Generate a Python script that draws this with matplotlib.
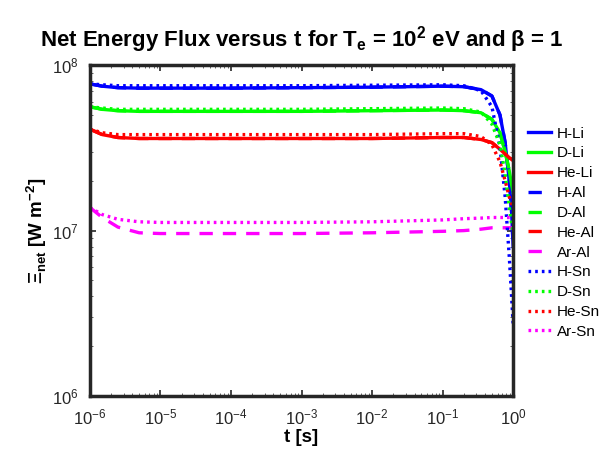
import matplotlib
matplotlib.use('Agg')
import matplotlib.pyplot as plt
from matplotlib.ticker import LogLocator, NullFormatter

plt.rcParams['font.family'] = ['Liberation Sans', 'DejaVu Sans']
plt.rcParams['mathtext.fontset'] = 'custom'
plt.rcParams['mathtext.rm'] = 'Liberation Sans'
plt.rcParams['mathtext.bf'] = 'Liberation Sans:bold'

# time points (s)
t_pts = [1e-6, 1.5e-6, 2.5e-6, 5e-6, 1e-5, 1e-4, 1e-3, 1e-2, 1e-1, 0.2,
         0.35, 0.5, 0.65, 0.77, 0.88, 0.95, 1.0]

# energy flux values (W m^-2)
h_li = [7.7e7, 7.45e7, 7.3e7, 7.25e7, 7.25e7, 7.25e7, 7.3e7, 7.35e7, 7.45e7,
        7.4e7, 7.1e7, 6.5e7, 5.0e7, 3.4e7, 2.0e7, 1.3e7, 8.0e6]
d_li = [5.6e7, 5.4e7, 5.3e7, 5.25e7, 5.25e7, 5.25e7, 5.25e7, 5.3e7, 5.35e7,
        5.3e7, 5.15e7, 4.7e7, 3.9e7, 3.0e7, 2.3e7, 1.9e7, 1.7e7]
he_li = [4.1e7, 3.8e7, 3.65e7, 3.6e7, 3.6e7, 3.6e7, 3.6e7, 3.6e7, 3.65e7,
         3.65e7, 3.55e7, 3.4e7, 3.1e7, 2.9e7, 2.75e7, 2.7e7, 2.65e7]
h_al = [7.7e7, 7.45e7, 7.3e7, 7.25e7, 7.25e7, 7.25e7, 7.3e7, 7.35e7, 7.45e7,
        7.4e7, 7.1e7, 6.5e7, 5.0e7, 3.4e7, 2.0e7, 1.3e7, 8.0e6]
d_al = [5.6e7, 5.4e7, 5.3e7, 5.25e7, 5.25e7, 5.25e7, 5.25e7, 5.3e7, 5.35e7,
        5.3e7, 5.15e7, 4.7e7, 3.9e7, 3.0e7, 2.3e7, 1.9e7, 1.7e7]
he_al = [4.1e7, 3.8e7, 3.65e7, 3.6e7, 3.6e7, 3.6e7, 3.6e7, 3.6e7, 3.65e7,
         3.65e7, 3.55e7, 3.4e7, 3.1e7, 2.9e7, 2.75e7, 2.7e7, 2.65e7]
ar_al = [1.38e7, 1.2e7, 1.05e7, 9.7e6, 9.6e6, 9.6e6, 9.6e6, 9.7e6, 9.9e6,
         1.0e7, 1.02e7, 1.04e7, 1.04e7, 1.04e7, 1.04e7, 1.04e7, 1.04e7]
h_sn = [7.7e7, 7.6e7, 7.5e7, 7.5e7, 7.5e7, 7.5e7, 7.5e7, 7.55e7, 7.6e7,
        7.5e7, 7.0e7, 5.6e7, 3.2e7, 1.6e7, 7.0e6, 4.0e6, 2.7e6]
d_sn = [5.6e7, 5.5e7, 5.4e7, 5.4e7, 5.4e7, 5.4e7, 5.4e7, 5.45e7, 5.5e7,
        5.45e7, 5.2e7, 4.4e7, 3.3e7, 2.2e7, 1.4e7, 1.1e7, 9.6e6]
he_sn = [4.1e7, 3.9e7, 3.8e7, 3.8e7, 3.8e7, 3.8e7, 3.8e7, 3.8e7, 3.85e7,
         3.85e7, 3.7e7, 3.3e7, 2.6e7, 2.0e7, 1.6e7, 1.45e7, 1.38e7]
ar_sn = [1.38e7, 1.25e7, 1.17e7, 1.13e7, 1.12e7, 1.12e7, 1.12e7, 1.13e7,
         1.16e7, 1.18e7, 1.19e7, 1.2e7, 1.2e7, 1.2e7, 1.2e7, 1.2e7, 1.2e7]

blue, green, red, magenta = (0, 0, 1), (0, 1, 0), (1, 0, 0), (1, 0, 1)

series = [
    ('H-Li', h_li, blue, '-'),
    ('D-Li', d_li, green, '-'),
    ('He-Li', he_li, red, '-'),
    ('H-Al', h_al, blue, (0, (4, 3))),
    ('D-Al', d_al, green, (0, (4, 3))),
    ('He-Al', he_al, red, (0, (4, 3))),
    ('Ar-Al', ar_al, magenta, (0, (4, 3))),
    ('H-Sn', h_sn, blue, (0, (0.8, 1.2))),
    ('D-Sn', d_sn, green, (0, (0.8, 1.2))),
    ('He-Sn', he_sn, red, (0, (0.8, 1.2))),
    ('Ar-Sn', ar_sn, magenta, (0, (0.8, 1.2))),
]

fig = plt.figure(figsize=(6.03, 4.58), dpi=100)
ax = fig.add_axes([0.149, 0.135, 0.702, 0.723])

for name, vals, col, ls in series:
    ax.plot(t_pts, vals, color=col, linestyle=ls, lw=2.4, label=name)

ax.set_xscale('log')
ax.set_yscale('log')
ax.set_xlim(1e-6, 1)
ax.set_ylim(1e6, 1e8)
ax.xaxis.set_major_locator(LogLocator(base=10, numticks=10))
ax.yaxis.set_major_locator(LogLocator(base=10, numticks=10))
ax.xaxis.set_minor_formatter(NullFormatter())
ax.yaxis.set_minor_formatter(NullFormatter())
ax.tick_params(which='both', direction='in', top=True, right=True,
               color='#262626', labelsize=12, labelcolor='#262626')
ax.tick_params(which='major', length=4, width=1.2, pad=8)
ax.tick_params(which='minor', length=2, width=0.5)
for sp in ax.spines.values():
    sp.set_linewidth(2.5)
    sp.set_color('#262626')

ax.set_title(r'Net Energy Flux versus t for T$_\mathbf{e}$ = 10$^\mathbf{2}$ eV and β = 1',
             fontsize=16, fontweight='bold', pad=13)
ax.set_xlabel('t [s]', fontsize=13.5, fontweight='bold', labelpad=1)
ax.set_ylabel(r'Ξ$_\mathbf{net}$ [W m$^\mathbf{-2}$]', fontsize=13.5,
              fontweight='bold', labelpad=2)

ax.legend(loc='upper left', bbox_to_anchor=(1.0, 0.86), frameon=False,
          fontsize=11, handlelength=1.5, handletextpad=0.35,
          labelspacing=0.38, borderaxespad=0.6)

fig.savefig('out.png', dpi=100)
